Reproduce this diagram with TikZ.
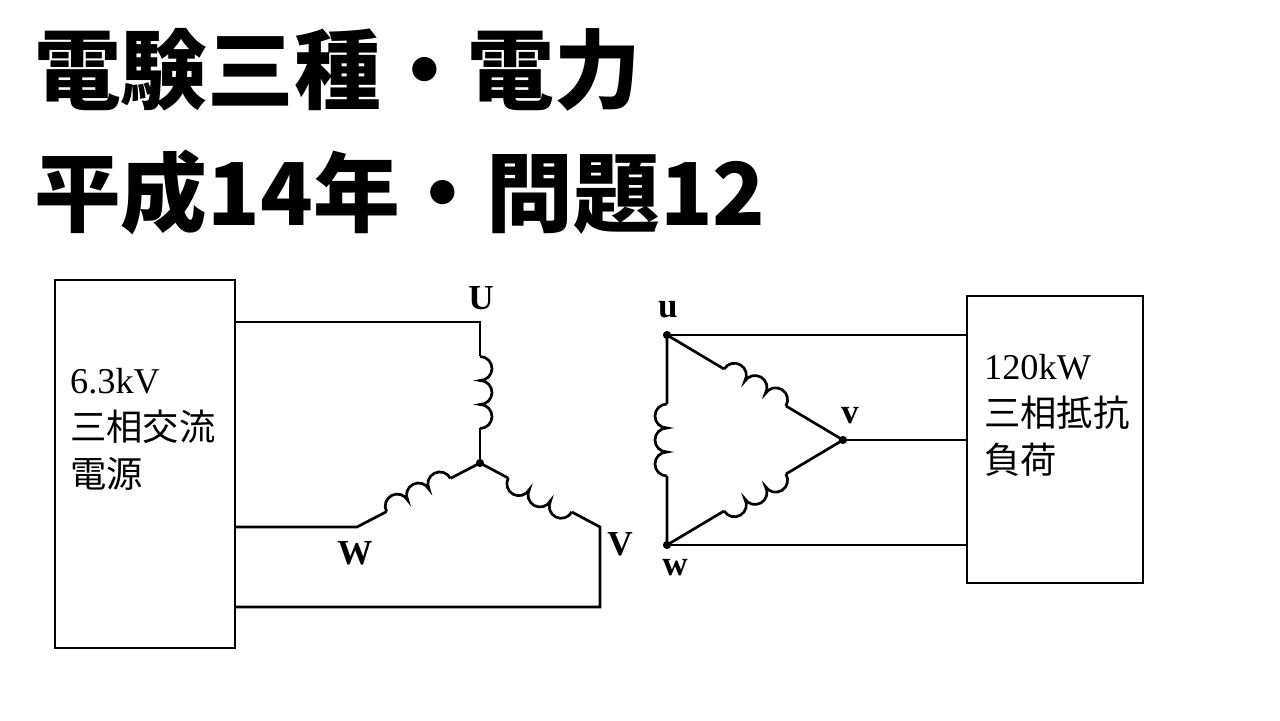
\documentclass[tikz,border=0pt]{standalone}
\usepackage{fontspec}
\setmainfont{Liberation Serif}
\newfontfamily\cjk{Noto Sans CJK JP}
\usetikzlibrary{positioning}
\usetikzlibrary{calc}

\tikzset{
  wire/.style={line width=2.3pt},
  junction/.style={circle, fill=black, inner sep=0pt, minimum size=7pt},
  terminal/.style={font=\fontsize{30}{30}\selectfont},
  blocktext/.style={align=left, anchor=north west, font=\fontsize{31}{40}\selectfont},
  winding/.pic={
    \draw[white, line width=4pt] (-36,0) -- (36,0);
    \draw[wire] (-36,0) arc (180:0:12) arc (180:0:12) arc (180:0:12);
  },
  coil/.style={sloped, allow upside down}
}

\begin{document}
\begin{tikzpicture}[x=0.03cm, y=0.03cm]
  \useasboundingbox (0,0) rectangle (1280,720);

  % Title
  \node[anchor=west, font=\cjk\bfseries\fontsize{74}{74}\selectfont, inner sep=0pt] (title1) at (34,650) {電験三種・電力};
  \node[anchor=west, font=\cjk\bfseries\fontsize{74}{74}\selectfont, inner sep=0pt] (title2) at (34,528) {平成14年・問題12};

  % Source block
  \draw[wire] (55,72) rectangle (235,440);
  \node[blocktext] (srctext) at (66,356) {6.3kV\\{\cjk 三相交流}\\{\cjk 電源}};

  % Load block
  \draw[wire] (967,137) rectangle (1143,424);
  \node[blocktext] (loadtext) at (980,370) {120kW\\{\cjk 三相抵抗}\\{\cjk 負荷}};

  % Star side
  \coordinate (U) at (480,398);
  \coordinate (V) at (600,193);
  \coordinate (W) at (357,193);
  \node[junction] (N) at (480,257) {};
  \coordinate (Uin) at (235,398);
  \coordinate (Win) at (235,193);
  \coordinate (Vin) at (235,113);
  \coordinate (Vdn) at (600,113);

  \draw[wire] (Uin) -- (U) -- pic[coil]{winding} (N.center);
  \draw[wire] (Win) -- (W) -- pic[coil]{winding} (N.center);
  \draw[wire] (Vin) -- (Vdn) -- (V) -- pic[coil]{winding} (N.center);

  \node[terminal] (lU) at (481,422) {\textbf{U}};
  \node[terminal] (lW) at (355,167) {\textbf{W}};
  \node[terminal] (lV) at (620,176) {\textbf{V}};

  % Delta side
  \node[junction] (u) at (667,385) {};
  \node[junction] (v) at (843,280) {};
  \node[junction] (w) at (667,175) {};

  \draw[wire] (w.center) -- pic[coil]{winding} (u.center)
              -- pic[coil]{winding} (v.center)
              -- pic[coil]{winding} (w.center);

  \draw[wire] (u.center) -- (967,385);
  \draw[wire] (v.center) -- (967,280);
  \draw[wire] (w.center) -- (967,175);

  \node[terminal] (lu) at (668,410) {\textbf{u}};
  \node[terminal] (lv) at (850,304) {\textbf{v}};
  \node[terminal] (lw) at (675,152) {\textbf{w}};
\end{tikzpicture}
\end{document}
